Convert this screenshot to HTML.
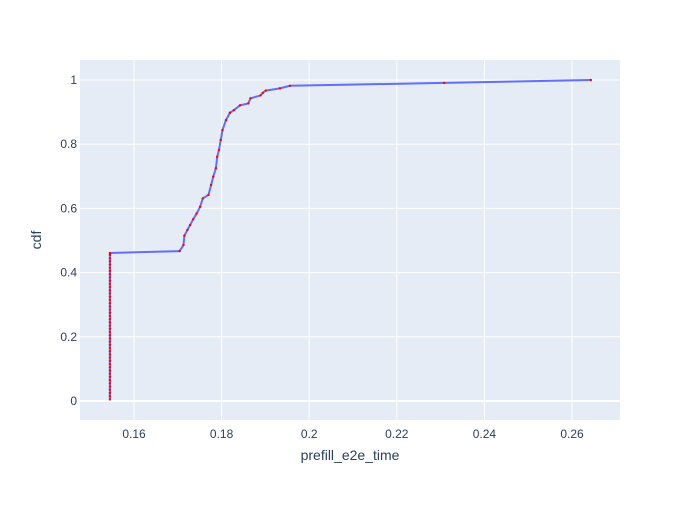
<!DOCTYPE html>
<html><head><meta charset="utf-8"><style>
body{margin:0;background:#fff;font-family:"Liberation Sans",sans-serif}
svg text{font-family:"Liberation Sans",sans-serif;fill:#2a3f5f}
</style></head><body>
<svg id="chart" width="700" height="500">
<rect x="0" y="0" width="700" height="500" fill="#fff"/>
<rect x="80" y="60" width="540" height="360" fill="#e5ecf6"/>
<g id="grid"></g><g id="series"></g><g id="ticks"></g>
<text x="350" y="460" text-anchor="middle" font-size="14">prefill_e2e_time</text>
<text transform="translate(41,240) rotate(-90)" text-anchor="middle" font-size="14">cdf</text>
</svg>
<script>
const xTicks=[0.16,0.18,0.2,0.22,0.24,0.26];
const yTicks=[0,0.2,0.4,0.6,0.8,1];
const stackX=0.1545;
const stackCdf=[0.005,0.015,0.025,0.035,0.045,0.055,0.065,0.075,0.085,0.095,0.105,0.115,0.125,0.135,0.145,0.155,0.165,0.175,0.185,0.195,0.205,0.215,0.225,0.235,0.245,0.255,0.265,0.275,0.285,0.295,0.305,0.315,0.325,0.335,0.345,0.355,0.365,0.375,0.385,0.395,0.405,0.415,0.425,0.435,0.445,0.455,0.461];
const curveX=[0.1704,0.1713,0.1715,0.1722,0.1728,0.1735,0.1743,0.1751,0.1757,0.1770,0.1776,0.1781,0.1787,0.1790,0.1794,0.1798,0.1802,0.1810,0.1819,0.1828,0.1842,0.1861,0.1866,0.1889,0.1894,0.1901,0.1933,0.1956,0.2308,0.2643];
const curveCdf=[0.467,0.486,0.515,0.533,0.548,0.566,0.584,0.605,0.631,0.642,0.673,0.699,0.725,0.761,0.782,0.813,0.844,0.875,0.898,0.906,0.921,0.927,0.943,0.952,0.960,0.967,0.974,0.982,0.991,1.0];
const NS='http://www.w3.org/2000/svg';
const X=v=>134+(v-0.16)*4380, Y=v=>401-v*321;
function mk(t,a,p){const e=document.createElementNS(NS,t);for(const k in a)e.setAttribute(k,a[k]);p.appendChild(e);return e;}
const grid=document.getElementById('grid'),ticks=document.getElementById('ticks'),series=document.getElementById('series');
xTicks.forEach(v=>{
 const l=mk('line',{x1:X(v),x2:X(v),y1:60,y2:420,stroke:'#fff','stroke-width':1},grid);
 
 
 const t=mk('text',{x:X(v),y:438,'text-anchor':'middle','font-size':12},ticks);t.textContent=String(v);
 
 
});
yTicks.forEach(v=>{
 const l=mk('line',{x1:80,x2:620,y1:Y(v),y2:Y(v),stroke:'#fff','stroke-width':v===0?2:1},grid);
 
 
 const t=mk('text',{x:77,y:Y(v)+4,'text-anchor':'end','font-size':12},ticks);t.textContent=String(v);
 
 
});
const pts=stackCdf.map(c=>[stackX,c]).concat(curveX.map((x,i)=>[x,curveCdf[i]]));
const line=mk('polyline',{points:pts.map(p=>X(p[0])+','+Y(p[1])).join(' '),fill:'none',stroke:'#636efa','stroke-width':2},series);


pts.forEach(p=>{
 const c=mk('circle',{cx:X(p[0]),cy:Y(p[1]),r:1.2,fill:'#ff0000'},series);
 
 
});
</script>
</body></html>
